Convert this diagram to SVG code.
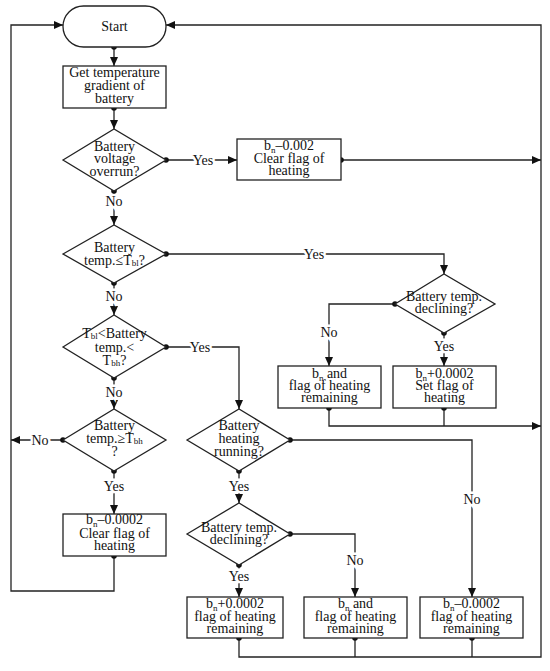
<svg xmlns="http://www.w3.org/2000/svg" width="550" height="671" viewBox="0 0 550 671">
<style>
.shape{fill:#fff;stroke:#222;stroke-width:1.3}
.ln{fill:none;stroke:#222;stroke-width:1.3}
.t{font-family:"Liberation Serif","Times New Roman",serif;font-size:14px;fill:#111;text-anchor:middle}
.lb{font-family:"Liberation Serif","Times New Roman",serif;font-size:14px;fill:#111;text-anchor:middle;stroke:#fff;stroke-width:5;paint-order:stroke}
.s{font-size:9px}
.dot{fill:#111}
</style>
<defs>
<marker id="ar" markerWidth="10" markerHeight="8" refX="9" refY="4" orient="auto" markerUnits="userSpaceOnUse">
<path d="M0,0 L9,4 L0,8 Z" fill="#111"/>
</marker>
</defs>
<rect width="550" height="671" fill="#fff"/>

<g id="connectors">
<path class="ln" d="M114,47 V66" marker-end="url(#ar)"/>
<path class="ln" d="M114,108 V129" marker-end="url(#ar)"/>
<path class="ln" d="M166,160 H237" marker-end="url(#ar)"/>
<path class="ln" d="M341,160 H541" marker-end="url(#ar)"/>
<path class="ln" d="M114,191 V225" marker-end="url(#ar)"/>
<path class="ln" d="M166,254 H444 V274" marker-end="url(#ar)"/>
<path class="ln" d="M114,283 V315" marker-end="url(#ar)"/>
<path class="ln" d="M166,347 H239 V409" marker-end="url(#ar)"/>
<path class="ln" d="M114,378 V409" marker-end="url(#ar)"/>
<path class="ln" d="M63,440 H11" marker-end="url(#ar)"/>
<path class="ln" d="M114,471 V514" marker-end="url(#ar)"/>
<path class="ln" d="M114,556 V591 H11 V25 H63" marker-end="url(#ar)"/>
<path class="ln" d="M395,304 H329 V366" marker-end="url(#ar)"/>
<path class="ln" d="M444,333 V366" marker-end="url(#ar)"/>
<path class="ln" d="M329,408 V426 H541" marker-end="url(#ar)"/>
<path class="ln" d="M444,408 V426"/>
<path class="ln" d="M290,440 H472 V597" marker-end="url(#ar)"/>
<path class="ln" d="M239,471 V503" marker-end="url(#ar)"/>
<path class="ln" d="M290,534 H355 V597" marker-end="url(#ar)"/>
<path class="ln" d="M239,565 V597" marker-end="url(#ar)"/>
<path class="ln" d="M239,638 V657 H541 V25 H166" marker-end="url(#ar)"/>
<path class="ln" d="M355,638 V657"/>
<path class="ln" d="M472,638 V657"/>
<text class="lb" x="203" y="164.5">Yes</text>
<text class="lb" x="114" y="205.5">No</text>
<text class="lb" x="314" y="258.5">Yes</text>
<text class="lb" x="114" y="300.5">No</text>
<text class="lb" x="200" y="351.5">Yes</text>
<text class="lb" x="114" y="396.5">No</text>
<text class="lb" x="40" y="444.5">No</text>
<text class="lb" x="114" y="490.5">Yes</text>
<text class="lb" x="329" y="336.5">No</text>
<text class="lb" x="444" y="350.5">Yes</text>
<text class="lb" x="239" y="490.5">Yes</text>
<text class="lb" x="472" y="503.5">No</text>
<text class="lb" x="355" y="564.5">No</text>
<text class="lb" x="239" y="580.5">Yes</text>
<g class="dot">
<circle cx="114" cy="47" r="2.8"/>
<circle cx="114" cy="108" r="2.8"/>
<circle cx="166" cy="160" r="2.8"/>
<circle cx="341" cy="160" r="2.8"/>
<circle cx="114" cy="191" r="2.8"/>
<circle cx="166" cy="254" r="2.8"/>
<circle cx="114" cy="283" r="2.8"/>
<circle cx="166" cy="347" r="2.8"/>
<circle cx="114" cy="378" r="2.8"/>
<circle cx="63" cy="440" r="2.8"/>
<circle cx="114" cy="471" r="2.8"/>
<circle cx="114" cy="556" r="2.8"/>
<circle cx="395" cy="304" r="2.8"/>
<circle cx="444" cy="333" r="2.8"/>
<circle cx="329" cy="408" r="2.8"/>
<circle cx="444" cy="408" r="2.8"/>
<circle cx="290" cy="440" r="2.8"/>
<circle cx="239" cy="471" r="2.8"/>
<circle cx="290" cy="534" r="2.8"/>
<circle cx="239" cy="565" r="2.8"/>
<circle cx="239" cy="638" r="2.8"/>
<circle cx="355" cy="638" r="2.8"/>
<circle cx="472" cy="638" r="2.8"/>
</g>
</g>

<g id="start">
<rect class="shape" x="63" y="6" width="103" height="41" rx="20.5"/>
<text class="t" x="114.5" y="31">Start</text>
</g>

<g id="get-gradient">
<rect class="shape" x="63" y="66" width="103" height="42"/>
<text class="t" x="114.5" y="77">Get temperature</text>
<text class="t" x="114.5" y="90">gradient of</text>
<text class="t" x="114.5" y="102.5">battery</text>
</g>

<g id="voltage-overrun">
<polygon class="shape" points="63,160 114,129 166,160 114,191"/>
<text class="t" x="114.5" y="150.5">Battery</text>
<text class="t" x="114.5" y="163">voltage</text>
<text class="t" x="114.5" y="176">overrun?</text>
</g>

<g id="clear-flag-1">
<rect class="shape" x="237" y="139" width="104" height="41"/>
<text class="t" x="289" y="149.5">b<tspan class="s" dy="3">n</tspan><tspan dy="-3">–0.002</tspan></text>
<text class="t" x="289" y="162.5">Clear flag of</text>
<text class="t" x="289" y="174.5">heating</text>
</g>

<g id="temp-le-tbl">
<polygon class="shape" points="63,254 114,225 166,254 114,283"/>
<text class="t" x="114.5" y="251.5">Battery</text>
<text class="t" x="114.5" y="264.5">temp.≤T<tspan class="s" dy="1">bl</tspan><tspan dy="-1">?</tspan></text>
</g>

<g id="temp-between">
<polygon class="shape" points="63,347 114,315 166,347 114,378"/>
<text class="t" x="114.5" y="337.5">T<tspan class="s" dy="1">bl</tspan><tspan dy="-1">&lt;Battery</tspan></text>
<text class="t" x="114.5" y="351.5">temp.&lt;</text>
<text class="t" x="114.5" y="364.5">T<tspan class="s" dy="1">bh</tspan><tspan dy="-1">?</tspan></text>
</g>

<g id="temp-ge-tbh">
<polygon class="shape" points="63,440 114,409 166,440 114,471"/>
<text class="t" x="114.5" y="429.5">Battery</text>
<text class="t" x="114.5" y="442.5">temp.≥T<tspan class="s" dy="1">bh</tspan></text>
<text class="t" x="114.5" y="456">?</text>
</g>

<g id="clear-flag-2">
<rect class="shape" x="63" y="514" width="103" height="42"/>
<text class="t" x="114.5" y="523.5">b<tspan class="s" dy="3">n</tspan><tspan dy="-3">–0.0002</tspan></text>
<text class="t" x="114.5" y="537.5">Clear flag of</text>
<text class="t" x="114.5" y="549.5">heating</text>
</g>

<g id="declining-upper">
<polygon class="shape" points="395,304 444,274 495,304 444,333"/>
<text class="t" x="444" y="300.5">Battery temp.</text>
<text class="t" x="444" y="312.5">declining?</text>
</g>

<g id="keep-upper">
<rect class="shape" x="278" y="366" width="103" height="42"/>
<text class="t" x="329.5" y="377.5">b<tspan class="s" dy="3">n</tspan><tspan dy="-3"> and</tspan></text>
<text class="t" x="329.5" y="390">flag of heating</text>
<text class="t" x="329.5" y="401.5">remaining</text>
</g>

<g id="set-flag">
<rect class="shape" x="393" y="366" width="103" height="42"/>
<text class="t" x="444.5" y="377.5">b<tspan class="s" dy="3">n</tspan><tspan dy="-3">+0.0002</tspan></text>
<text class="t" x="444.5" y="390">Set flag of</text>
<text class="t" x="444.5" y="401.5">heating</text>
</g>

<g id="heating-running">
<polygon class="shape" points="187,440 239,409 290,440 239,471"/>
<text class="t" x="239" y="429.5">Battery</text>
<text class="t" x="239" y="442.5">heating</text>
<text class="t" x="239" y="455.5">running?</text>
</g>

<g id="declining-lower">
<polygon class="shape" points="187,534 239,503 290,534 239,565"/>
<text class="t" x="239" y="532">Battery temp.</text>
<text class="t" x="239" y="543.5">declining?</text>
</g>

<g id="plus-remaining">
<rect class="shape" x="187" y="597" width="96" height="41"/>
<text class="t" x="235" y="607.5">b<tspan class="s" dy="3">n</tspan><tspan dy="-3">+0.0002</tspan></text>
<text class="t" x="235" y="620.5">flag of heating</text>
<text class="t" x="235" y="632.5">remaining</text>
</g>

<g id="keep-lower">
<rect class="shape" x="304" y="597" width="103" height="41"/>
<text class="t" x="355.5" y="607.5">b<tspan class="s" dy="3">n</tspan><tspan dy="-3"> and</tspan></text>
<text class="t" x="355.5" y="620.5">flag of heating</text>
<text class="t" x="355.5" y="632.5">remaining</text>
</g>

<g id="minus-remaining">
<rect class="shape" x="420" y="597" width="103" height="41"/>
<text class="t" x="471.5" y="607.5">b<tspan class="s" dy="3">n</tspan><tspan dy="-3">–0.0002</tspan></text>
<text class="t" x="471.5" y="620.5">flag of heating</text>
<text class="t" x="471.5" y="632.5">remaining</text>
</g>
</svg>
